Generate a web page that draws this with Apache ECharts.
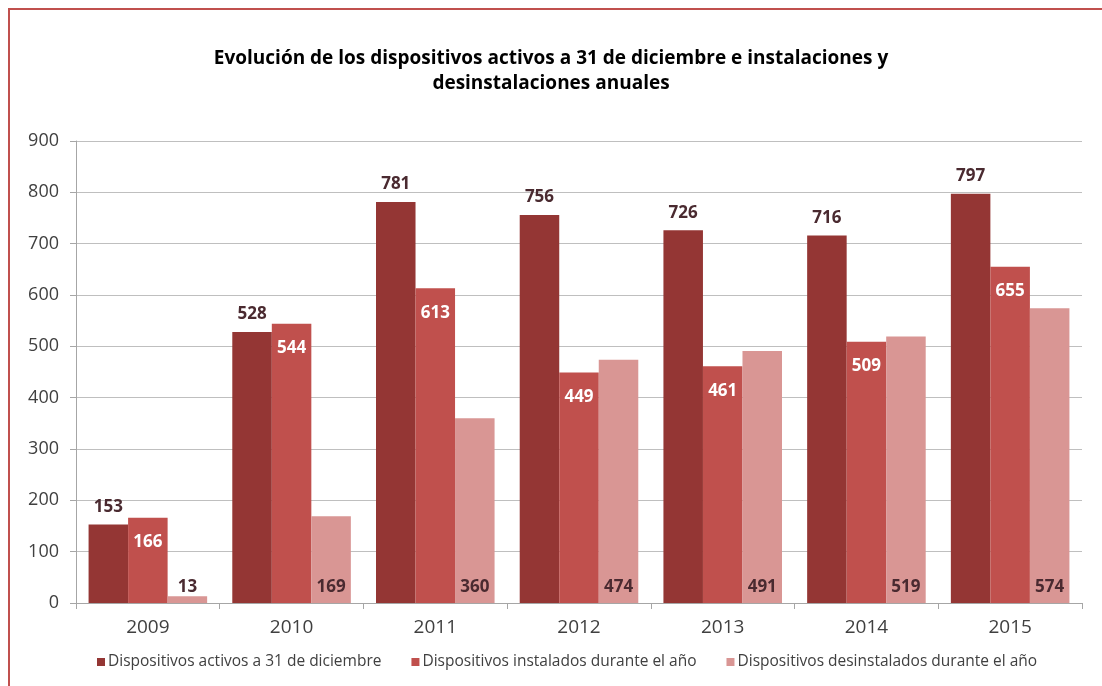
<!DOCTYPE html>
<html>
<head>
<meta charset="utf-8">
<script src="https://cdn.jsdelivr.net/npm/echarts@6/dist/echarts.min.js"></script>
<style>
html,body{margin:0;padding:0;background:#fff;}
#c{width:1102px;height:686px;}
</style>
</head>
<body>
<div id="c"></div>
<script>
var years = ['2009','2010','2011','2012','2013','2014','2015'];
var activos = [153,528,781,756,726,716,797];
var instalados = [166,544,613,449,461,509,655];
var desinstalados = [13,169,360,474,491,519,574];
var seriesNames = ['Dispositivos activos a 31 de diciembre','Dispositivos instalados durante el año','Dispositivos desinstalados durante el año'];
var titleText = 'Evolución de los dispositivos activos a 31 de diciembre e instalaciones y\ndesinstalaciones anuales';

var font = '"Open Sans", Lato, sans-serif';
var chart = echarts.init(document.getElementById('c'));
chart.setOption({
  animation:false,
  backgroundColor:'#fff',
  graphic:[{type:'rect',shape:{x:9,y:9,width:1120,height:720},style:{fill:'none',stroke:'#C0504D',lineWidth:2},silent:true}],
  title:{text:titleText,left:'center',top:41,textStyle:{fontFamily:font,fontSize:19,fontWeight:'bold',color:'#000',lineHeight:25}},
  legend:{bottom:11,left:92,itemWidth:8,itemHeight:8,itemGap:30,icon:'rect',
    textStyle:{fontFamily:font,fontSize:15.5,color:'#404040',padding:[0,0,0,-2]},data:seriesNames},
  grid:{left:76,right:20,top:141,bottom:83},
  xAxis:{type:'category',data:years,
    axisLine:{lineStyle:{color:'#A6A6A6'}},
    axisTick:{show:true,length:6,lineStyle:{color:'#A6A6A6'}},
    axisLabel:{fontFamily:font,fontSize:19,color:'#404040',margin:15}},
  yAxis:{type:'value',min:0,max:900,interval:100,
    axisLine:{show:true,lineStyle:{color:'#A6A6A6'}},
    axisTick:{show:true,length:6,lineStyle:{color:'#A6A6A6'}},
    axisLabel:{fontFamily:font,fontSize:18,color:'#404040',margin:17},
    splitLine:{lineStyle:{color:'#BFBFBF'}}},
  series:[
    {name:seriesNames[0],type:'bar',data:activos,barGap:'0%',barCategoryGap:'17.5%',itemStyle:{color:'#943634'},
      label:{show:true,position:'top',distance:9,fontFamily:font,fontSize:17,fontWeight:'bold',color:'#4A2A30'}},
    {name:seriesNames[1],type:'bar',data:instalados,barGap:'0%',barCategoryGap:'17.5%',itemStyle:{color:'#C0504D'},
      label:{show:true,position:'insideTop',distance:16,fontFamily:font,fontSize:17,fontWeight:'bold',color:'#fff'}},
    {name:seriesNames[2],type:'bar',data:desinstalados,barGap:'0%',barCategoryGap:'17.5%',itemStyle:{color:'#D99694'},
      label:{show:true,position:'insideBottom',distance:7,fontFamily:font,fontSize:17,fontWeight:'bold',color:'#4A2A30'}}
  ]
});
</script>
</body>
</html>
